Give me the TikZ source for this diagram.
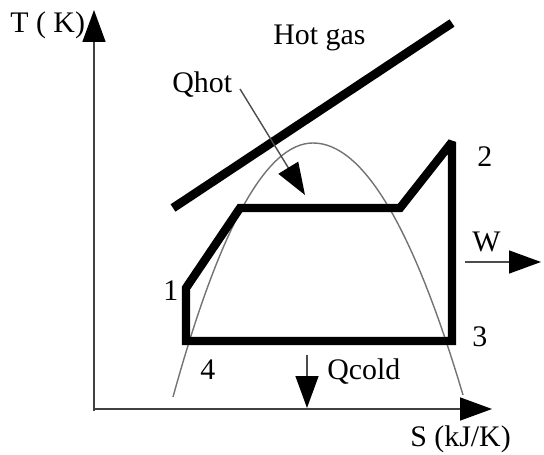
\documentclass[tikz,border=0pt]{standalone}
\usepackage{fontspec}
\setmainfont{Liberation Serif}
\usetikzlibrary{arrows.meta}
\begin{document}
\begin{tikzpicture}[x=0.02cm,y=-0.02cm,
  lbl/.style={font=\fontsize{17}{20}\selectfont, inner sep=0pt, anchor=base west},
  cyc/.style={line width=4.8pt, line join=miter, miter limit=2.5},
  hotline/.style={line width=5pt},
  axisline/.style={line width=0.9pt, draw=black!75},
  domeline/.style={line width=0.8pt, draw=black!55},
  thinarrow/.style={line width=0.8pt, draw=black!70},
  tri/.style={-{Triangle[length=0.64cm,width=0.46cm,color=black]}}]
\useasboundingbox (0,0) rectangle (544,455);
% axes
\coordinate (O) at (94,411);
\coordinate (Ttip) at (94,10);
\coordinate (Sbase) at (94,409);
\coordinate (Stip) at (492,409);
\draw[axisline, tri] (O) -- (Ttip);
\draw[axisline, tri] (Sbase) -- (Stip);
\node[lbl] (tlab) at (10,33) {T ( K)};
\node[lbl] (slab) at (410,447) {S (kJ/K)};
% dome
\coordinate (dl) at (173,397);
\coordinate (dp) at (313,143);
\coordinate (dr) at (463,395);
\draw[domeline] (dl) .. controls (219.7,227.7) and (266.3,143) .. (dp)
  .. controls (363,143) and (413,227) .. (dr);
% hot gas line
\coordinate (h1) at (173,208);
\coordinate (h2) at (452,23);
\draw[hotline] (h1) -- (h2);
\node[lbl] (hotgas) at (273,45) {Hot gas};
% cycle
\coordinate (p1) at (186,288);
\coordinate (pa) at (240,208);
\coordinate (pb) at (400,208);
\coordinate (p2) at (452,142);
\coordinate (p3) at (452,341);
\coordinate (p4) at (186,341);
\draw[cyc] (p1) -- (pa) -- (pb) -- (p2) -- (p3) -- (p4) -- cycle;
\node[lbl] (n1) at (163,301) {1};
\node[lbl] (n2) at (477,167) {2};
\node[lbl] (n3) at (472,347) {3};
\node[lbl] (n4) at (200,380) {4};
% Qhot
\node[lbl] (qhot) at (172,93) {Qhot};
\coordinate (qh1) at (240,89);
\coordinate (qh2) at (305,195);
\draw[thinarrow, tri] (qh1) -- (qh2);
% W
\node[lbl] (w) at (472,252) {W};
\coordinate (w1) at (465,262);
\coordinate (w2) at (541,262);
\draw[thinarrow, tri] (w1) -- (w2);
% Qcold
\node[lbl] (qcold) at (327,380) {Qcold};
\coordinate (qc1) at (307,355);
\coordinate (qc2) at (307,408);
\draw[thinarrow, tri] (qc1) -- (qc2);
\end{tikzpicture}
\end{document}
